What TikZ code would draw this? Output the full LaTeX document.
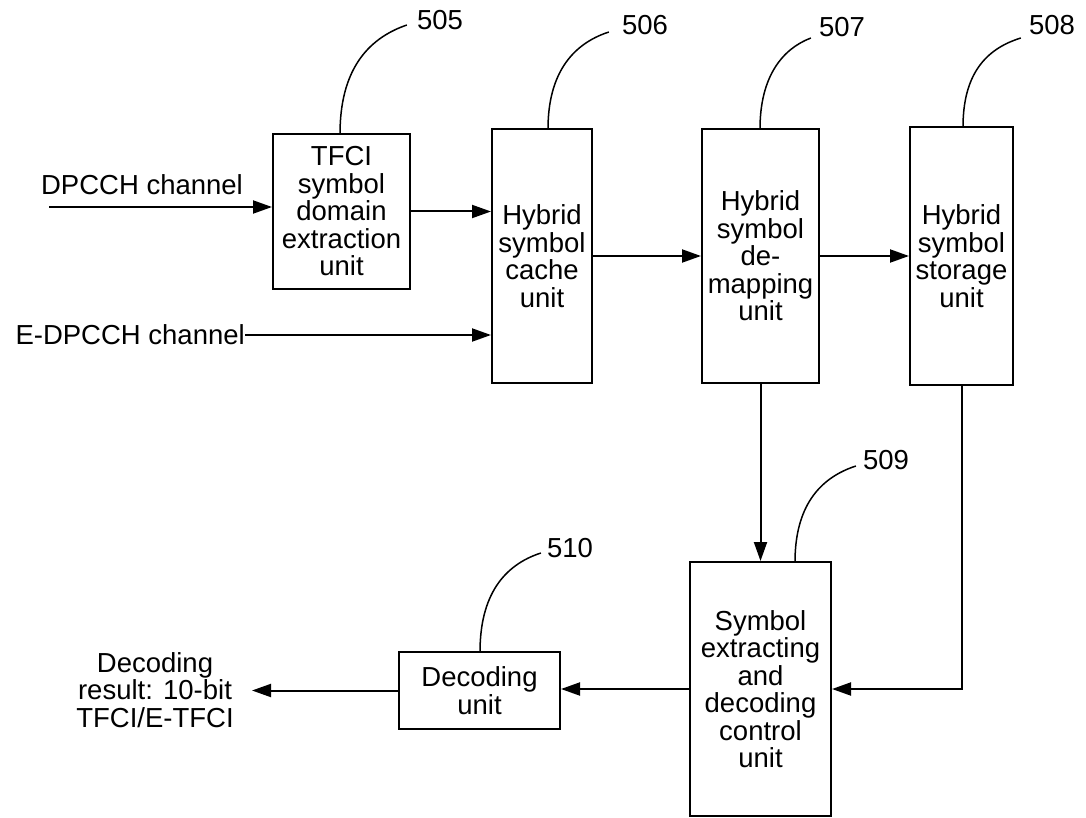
\documentclass[tikz,border=0pt]{standalone}
\usepackage{fontspec}
\setmainfont{Liberation Sans}
\usetikzlibrary{arrows.meta,calc}
\begin{document}
\begin{tikzpicture}[x=1pt,y=-1pt,
  txt/.style={font=\fontsize{27.5}{27.5}\selectfont, align=center, inner sep=0pt},
  unitbox/.style={txt, draw, line width=2pt, anchor=center},
  conn/.style={line width=2pt, -{Triangle[length=19pt,width=13pt]}},
  leader/.style={line width=1.5pt}]
\useasboundingbox (0,0) rectangle (1086,818);

% boxes
\node[unitbox, minimum width=137, minimum height=155] (b505) at (341.5,211.5) {TFCI\\symbol\\domain\\extraction\\unit};
\node[unitbox, minimum width=100, minimum height=254] (b506) at (542,256) {Hybrid\\symbol\\cache\\unit};
\node[unitbox, minimum width=117, minimum height=254] (b507) at (760.5,256) {Hybrid\\symbol\\de-\\mapping\\unit};
\node[unitbox, minimum width=103, minimum height=258] (b508) at (961.5,256) {Hybrid\\symbol\\storage\\unit};
\node[unitbox, minimum width=141, minimum height=254] (b509) at (760.5,689) {Symbol\\extracting\\and\\decoding\\control\\unit};
\node[unitbox, minimum width=161, minimum height=77] (b510) at (479.5,690.5) {Decoding\\unit};

% external labels
\node[txt] (ldp) at (142,185) {DPCCH channel};
\node[txt, anchor=east] (ledp) at (245,335) {E-DPCCH channel};
\node[txt] (lres) at (155,690) {Decoding\\result: 10-bit\\TFCI/E-TFCI};
\coordinate (dpin) at (49,207);
\coordinate (outtip) at (252,690.5);

% connectors
\draw[conn] (dpin) -- (dpin -| b505.west);
\draw[conn] (b505.east) -- (b505.east -| b506.west);
\draw[conn] (ledp.east) -- (ledp.east -| b506.west);
\draw[conn] (b506.east) -- (b506.east -| b507.west);
\draw[conn] (b507.east) -- (b507.east -| b508.west);
\draw[conn] (b507.south) -- (b509.north);
\draw[conn] (b508.south) |- (b509.east);
\draw[conn] (b509.west) -- (b509.west -| b510.east);
\draw[conn] (b510.west) -- (outtip);

% reference numerals with leader curves
\node[txt] (n505) at (440,20) {505};
\node[txt] (n506) at (645,25) {506};
\node[txt] (n507) at (842,27) {507};
\node[txt] (n508) at (1052,25) {508};
\node[txt] (n509) at (886,460) {509};
\node[txt] (n510) at (570,548) {510};

\coordinate (t505) at (340,134);
\coordinate (t506) at (548,129);
\coordinate (t507) at (760,129);
\coordinate (t508) at (963,127);
\coordinate (t509) at (795,562);
\coordinate (t510) at (480,652);

\draw[leader] (t505) .. controls ($(t505)+(0,-62)$) and ($(t505)+(26,-95)$) .. ($(n505.west)+(-10,5)$);
\draw[leader] (t506) .. controls ($(t506)+(0,-55)$) and ($(t506)+(24,-85)$) .. ($(n506.west)+(-13,7)$);
\draw[leader] (t507) .. controls ($(t507)+(0,-52)$) and ($(t507)+(22,-80)$) .. ($(n507.west)+(-8,11)$);
\draw[leader] (t508) .. controls ($(t508)+(0,-52)$) and ($(t508)+(22,-78)$) .. ($(n508.west)+(-8,13)$);
\draw[leader] (t509) .. controls ($(t509)+(0,-55)$) and ($(t509)+(24,-84)$) .. ($(n509.west)+(-7,6)$);
\draw[leader] (t510) .. controls ($(t510)+(0,-57)$) and ($(t510)+(24,-87)$) .. ($(n510.west)+(-6,5)$);
\end{tikzpicture}
\end{document}
